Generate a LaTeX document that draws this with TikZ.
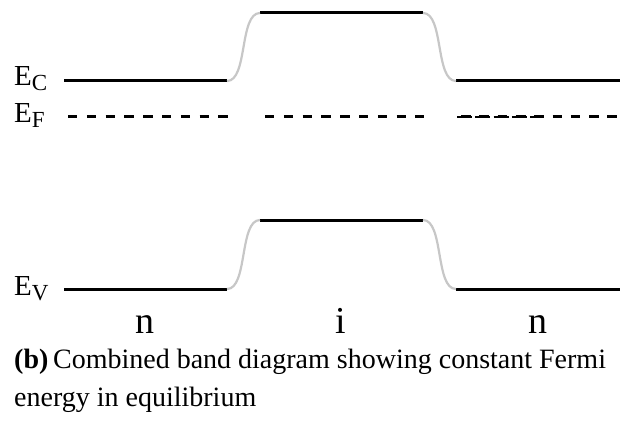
\documentclass[tikz,border=0pt]{standalone}
\usepackage{fontspec}
\setmainfont{Liberation Serif}
\tikzset{
  band/.style={line width=3pt, black},
  slope/.style={line width=2.2pt, black!22},
  fermi/.style={line width=3pt, dash pattern=on 9.4pt off 9.4pt},
  lbl/.style={inner sep=0pt, font=\fontsize{29}{32}\selectfont},
  region/.style={inner sep=0pt, font=\fontsize{38}{42}\selectfont}
}
\newcommand{\elevel}[1]{E\raisebox{-5pt}{\fontsize{23}{26}\selectfont #1}}
\begin{document}
\begin{tikzpicture}[x=1pt, y=-1pt]
  \useasboundingbox (0,0) rectangle (620,422);
  % Leitungsband
  \draw[band] (64,81) coordinate (cl1) -- (227,81) coordinate (cl2);
  \draw[band] (260,13) coordinate (cm1) -- (423,13) coordinate (cm2);
  \draw[band] (456,81) coordinate (cr1) -- (620,81) coordinate (cr2);
  \draw[slope] (cl2) .. controls (248,81) and (239,13) .. (cm1);
  \draw[slope] (cm2) .. controls (444,13) and (435,81) .. (cr1);
  % Valenzband
  \draw[band] (64,289) coordinate (vl1) -- (227,289) coordinate (vl2);
  \draw[band] (260,220) coordinate (vm1) -- (423,220) coordinate (vm2);
  \draw[band] (456,289) coordinate (vr1) -- (620,289) coordinate (vr2);
  \draw[slope] (vl2) .. controls (248,289) and (239,220) .. (vm1);
  \draw[slope] (vm2) .. controls (444,220) and (435,289) .. (vr1);
  % Fermi-Niveau
  \draw[fermi] (68,117) coordinate (fl1) -- (229,117) coordinate (fl2);
  \draw[fermi] (265,117) coordinate (fm1) -- (424,117) coordinate (fm2);
  \draw[line width=1.2pt, dash pattern=on 15pt off 3.3pt] (457,117) coordinate (fr0) -- (540,117);
  \draw[fermi, dash pattern=on 9.6pt off 8.7pt] (461,117) coordinate (fr1) -- (620,117) coordinate (fr2);
  % Beschriftung
  \node[lbl, anchor=base west] (ec) at (14,86) {\elevel{C}};
  \node[lbl, anchor=base west] (ef) at (14,123) {\elevel{F}};
  \node[lbl, anchor=base west] (ev) at (14,295) {\elevel{V}};
  \node[region, anchor=base] (nl) at (145,333) {n};
  \node[region, anchor=base] (im) at (341,333) {i};
  \node[region, anchor=base] (nr) at (538,333) {n};
  \node[anchor=base west, inner sep=0pt, align=left,
        font=\fontsize{28}{38}\selectfont] (cap) at (14,406)
    {\textbf{(b)}\,Combined band diagram showing constant Fermi\\energy in equilibrium};
\end{tikzpicture}
\end{document}
